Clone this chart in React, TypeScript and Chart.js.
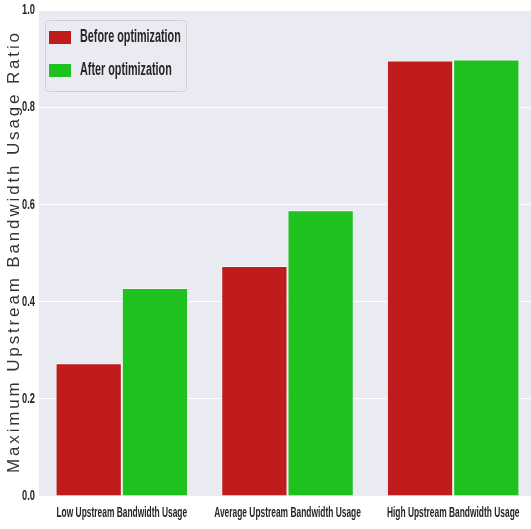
import React, { useEffect, useRef } from "react";
import { Chart, registerables } from "chart.js";
Chart.register(...registerables);

const categories = ["Low Upstream Bandwidth Usage", "Average Upstream Bandwidth Usage", "High Upstream Bandwidth Usage"];
const beforeValues = [0.273, 0.473, 0.896];
const afterValues = [0.428, 0.588, 0.898];
const seriesLabels = ["Before optimization", "After optimization"];
const seriesColors = ["#C01C1C", "#1EC21E"];
const yTitle = "Maximum Upstream Bandwidth Usage Ratio";
const yTicks = [0, 0.2, 0.4, 0.6, 0.8, 1.0];

const FONT = "'Liberation Sans', Arial, sans-serif";
const TEXT = "#262626";

// draw condensed text (emulates a narrow font) - still real text on the canvas
function narrowText(ctx: CanvasRenderingContext2D, text: string, x: number, y: number, size: number, align: "left" | "center" | "right", squeeze: number) {
  ctx.save();
  ctx.font = `bold ${size}px ${FONT}`;
  ctx.textBaseline = "middle";
  ctx.textAlign = align;
  ctx.translate(x, y);
  ctx.scale(squeeze, 1);
  ctx.fillText(text, 0, 0);
  ctx.restore();
}

const textPlugin = {
  id: "textPlugin",
  afterDraw(chart: any) {
    const ctx: CanvasRenderingContext2D = chart.ctx;
    const xs = chart.scales.x;
    const ys = chart.scales.y;
    ctx.save();
    ctx.fillStyle = TEXT;
    // x tick labels
    (chart.data.labels as string[]).forEach((lab, i) => {
      narrowText(ctx, lab, xs.getPixelForValue(i), chart.chartArea.bottom + 17, 15, "center", 0.56);
    });
    // y tick labels
    yTicks.forEach((v) => {
      narrowText(ctx, v.toFixed(1), 35, ys.getPixelForValue(v), 15, "right", 0.62);
    });
    // y title with wide letter spacing
    const top = chart.chartArea.top, bottom = chart.chartArea.bottom;
    const cy = (top + bottom) / 2;
    ctx.font = `17px ${FONT}`;
    const baseW = ctx.measureText(yTitle).width;
    const targetW = 440;
    const spacing = (targetW - baseW) / (yTitle.length - 1);
    ctx.translate(14, cy);
    ctx.rotate(-Math.PI / 2);
    ctx.fillStyle = "#333";
    ctx.textBaseline = "middle";
    ctx.textAlign = "left";
    (ctx as any).letterSpacing = `${spacing}px`;
    ctx.fillText(yTitle, -targetW / 2, 0);
    (ctx as any).letterSpacing = "0px";
    ctx.restore();

    // legend
    ctx.save();
    const lx = 45, ly = 20, lw = 141, lh = 71;
    ctx.fillStyle = "rgba(234,234,242,0.85)";
    ctx.strokeStyle = "#D0D0D0";
    ctx.lineWidth = 1;
    ctx.beginPath();
    (ctx as any).roundRect(lx + 0.5, ly + 0.5, lw, lh, 3);
    ctx.fill();
    ctx.stroke();
    chart.data.datasets.forEach((ds: any, i: number) => {
      const cy2 = 37 + i * 33;
      ctx.fillStyle = ds.backgroundColor;
      ctx.fillRect(49, cy2 - 6, 22, 13);
      ctx.fillStyle = TEXT;
      narrowText(ctx, ds.label, 80, cy2, 18, "left", 0.6);
    });
    ctx.restore();
  },
};

export default function App() {
  const ref = useRef<HTMLCanvasElement>(null);
  useEffect(() => {
    const chart = new Chart(ref.current!, {
      type: "bar",
      data: {
        labels: categories,
        datasets: [
          { label: seriesLabels[0], data: beforeValues, backgroundColor: seriesColors[0], borderColor: "rgba(255,255,255,0.6)", borderWidth: 1 },
          { label: seriesLabels[1], data: afterValues, backgroundColor: seriesColors[1], borderColor: "rgba(255,255,255,0.6)", borderWidth: 1 },
        ],
      },
      options: {
        responsive: false,
        animation: false,
        layout: { padding: { top: 10, left: 0, right: 0, bottom: 0 } },
        datasets: { bar: { categoryPercentage: 0.8, barPercentage: 1.0 } },
        plugins: { legend: { display: false }, tooltip: { enabled: false } },
        scales: {
          x: {
            grid: { display: false },
            border: { display: false },
            ticks: { display: false },
            afterFit(scale: any) { scale.height = 33; },
          },
          y: {
            min: 0,
            max: 1,
            grid: { color: "#FFFFFF", lineWidth: 1, drawTicks: false },
            border: { display: false },
            ticks: { display: false, stepSize: 0.2 },
            afterFit(scale: any) { scale.width = 39; },
          },
        },
      },
      plugins: [
        {
          id: "bg",
          beforeDraw(chart: any) {
            const { ctx, chartArea } = chart;
            ctx.save();
            ctx.fillStyle = "#EAEAF2";
            ctx.fillRect(chartArea.left, chartArea.top, chartArea.right - chartArea.left, chartArea.bottom - chartArea.top);
            ctx.restore();
          },
        },
        textPlugin,
      ],
    });
    return () => chart.destroy();
  }, []);
  return (
    <div style={{ position: "fixed", left: 0, top: 0, width: 531, height: 529, overflow: "hidden", background: "#fff" }}>
      <canvas ref={ref} width={536} height={529} style={{ display: "block" }} />
    </div>
  );
}
